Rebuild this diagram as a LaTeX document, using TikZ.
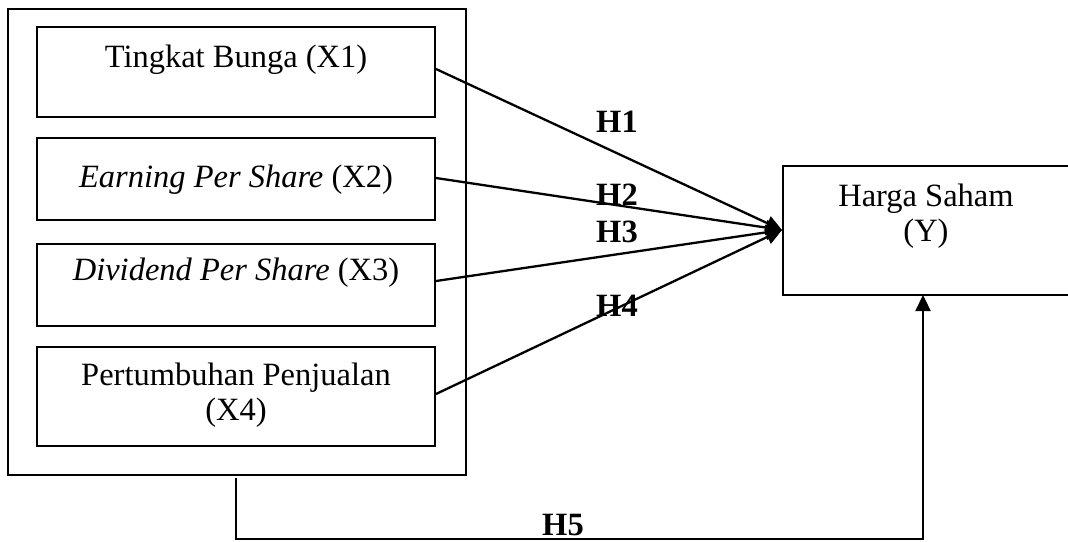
\documentclass[tikz,border=0pt]{standalone}
\usepackage{fontspec}
\setmainfont{Liberation Serif}
\usetikzlibrary{arrows.meta}
\begin{document}
\begin{tikzpicture}[x=1pt,y=-1pt,
  box/.style={draw, line width=2pt, rectangle, inner sep=0pt},
  txt/.style={font=\fontsize{32.5}{37}\selectfont, inner sep=0pt, align=center},
  hlab/.style={font=\fontsize{32.5}{37}\selectfont\bfseries, inner sep=0pt},
  conn/.style={line width=2.3pt, -{Triangle[length=16pt,width=15pt]}}
]
\useasboundingbox (0,0) rectangle (1068,541);
% outer frame
\node[box, minimum width=458pt, minimum height=466pt] (outer) at (237,242) {};
% inner boxes
\node[box, minimum width=398pt, minimum height=90pt] (x1) at (236,72) {};
\node[box, minimum width=398pt, minimum height=82pt] (x2) at (236,179) {};
\node[box, minimum width=398pt, minimum height=82pt] (x3) at (236,285) {};
\node[box, minimum width=398pt, minimum height=99pt] (x4) at (236,396.5) {};
\node[txt] (t1) at (236,60) {Tingkat Bunga (X1)};
\node[txt] (t2) at (236,180) {\textit{Earning Per Share} (X2)};
\node[txt] (t3) at (236,273) {\textit{Dividend Per Share} (X3)};
\node[txt] (t4) at (236,395) {Pertumbuhan Penjualan\\[-2pt](X4)};
% dependent box (right edge beyond page)
\node[box, minimum width=300pt, minimum height=129pt] (y) at (933,230.5) {};
\node[txt] (ty) at (926,216) {Harga Saham\\[-2pt](Y)};
% connectors
\coordinate (tip) at (782,230);
\draw[conn] (x1.east |- 0,69) -- (tip);
\draw[conn] (x2.east |- 0,178) -- (tip);
\draw[conn] (x3.east |- 0,281) -- (tip);
\draw[conn] (x4.east |- 0,394) -- (tip);
\node[hlab] (h1) at (617,122) {H1};
\node[hlab] (h2) at (617,195) {H2};
\node[hlab] (h3) at (617,232) {H3};
\node[hlab] (h4) at (617,306) {H4};
% H5
\coordinate (s5) at (236,478);
\coordinate (e5) at (923,295);
\draw[conn] (s5) -- (236,539) -- (923,539) -- (e5);
\node[hlab] (h5) at (563,525) {H5};
\end{tikzpicture}
\end{document}
